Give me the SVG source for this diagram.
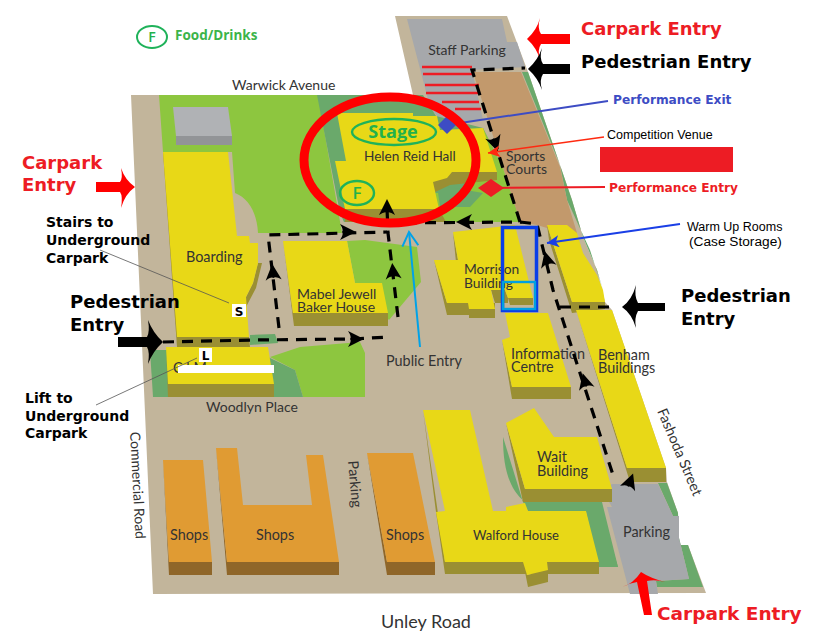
<svg xmlns="http://www.w3.org/2000/svg" width="818" height="642" viewBox="0 0 818 642">
<defs>
<style>
.g{fill:#c2b59b}.lg{fill:#8dc63f}.dg{fill:#6aa96b}.y{fill:#e8d817}.ys{fill:#9a8f33}.o{fill:#e09b33}.os{fill:#8f6629}.gr{fill:#a6a8ab}.br{fill:#c2996c}
.m{font-family:Lato,"Liberation Sans",sans-serif;font-size:14.400px;fill:#333}
.s{font-size:14px}
.b{font-family:"DejaVu Sans","Liberation Sans",sans-serif;font-weight:700}
.d{fill:none;stroke:#000;stroke-width:3.2;stroke-dasharray:11 8}
</style>
<path id="h" d="M9 0L-7 -8Q-3 -2 -5 0Q-3 2 -7 8Z" fill="#000"/>
<marker id="blueTip" markerUnits="userSpaceOnUse" markerWidth="14" markerHeight="12" refX="12" refY="6" orient="auto"><path d="M12 6L0 0L3 6L0 12Z" fill="#1a3fe6"/></marker>
<marker id="redTip" markerUnits="userSpaceOnUse" markerWidth="14" markerHeight="12" refX="12" refY="6" orient="auto"><path d="M12 6L0 0L3 6L0 12Z" fill="#ff2a10"/></marker>
<marker id="cyanTip" markerUnits="userSpaceOnUse" markerWidth="18" markerHeight="18" refX="15" refY="9" orient="auto"><path d="M1 1L15 9L1 17" fill="none" stroke="#00a2e8" stroke-width="2"/></marker>
</defs>
<rect width="818" height="642" fill="#fff"/>
<polygon id="ground" class="g" points="395,16 507,16 528,72 572,200 583,237 597,270 605,302 612,310 666,468 667,482 678,513 679,545 688,545 706,593 153,594 131,95 413,95"/>
<g id="site">
<polygon class="dg" points="522,72 528,72 572,200 583,237 597,270 603,290 590,250 567,200 560,165"/>
<polygon class="br" points="473,72 521,72 560,167 567,200 577,233 547,228 537,225 520,222"/>
<polygon class="gr" points="407,19 502,19 507,42 517,42 525,67 472,70 483,120 443,124 430,107"/>
<path class="lg" d="M159,95H318L342,233H258C257,212 248,198 235,193L232,152H163Z"/>
<polygon class="dg" points="317,95 423,95 436,116 483,128 502,167 520,222 344,222 340,213"/>
<polygon class="lg" points="440,133 483,128 503,168 520,222 390,222 433,193 470,193"/>
<polygon class="dg" points="437,185 483,193 470,207 440,207"/>
<polygon class="lg" points="347,241 365,240 417,247 421,282 389,320 355,283"/>
<polygon class="dg" points="150,350 168,350 168,397 153,397"/>
<polygon class="dg" points="250,335 275,334 278,343 250,345"/>
<polygon class="lg" points="270,357 300,347 360,342 365,353 365,397 303,397 295,370"/>
<polygon class="dg" points="268,357 295,370 303,397 274,397"/>
<path class="dg" d="M503,437L523,502H598L618,567H598L586,511H528L525,502C510,490 503,470 503,437Z"/>
<polygon class="dg" points="523,502 602,502 618,567 599,567 586,511 528,511"/>
<polygon class="dg" points="658,483 667,483 678,513 679,545 688,545 703,587 657,587 656,581 689,579 679,538 679,516 673,516"/>
<polygon class="gr" points="612,484 658,484 673,516 679,516 679,538 689,579 656,581 658,594 630,594 607,507 612,507 602,490"/>
</g>
<g id="stripes" fill="none" stroke="#ed1c24" stroke-width="2.6">
<path d="M422,67H472M423,74H473M425,85H479M426,93H480M442,102H479M455,109H481"/>
</g>
<g id="carpark-block"><polygon points="173,107 228,107 232,136 176,136" fill="#b0b2b5"/><polygon points="173,107 176,136 176,145 232,145 232,136 176,136" fill="#929497"/></g>
<g id="boarding">
<polygon class="ys" points="163,152 167,152 181,337 177,347"/>
<polygon class="ys" points="177,337 249,337 250,347 177,347"/>
<polygon class="ys" points="258,263 253,283 246,297 246,307 256,288 262,263"/>
<polygon class="y" points="163,152 228,152 237,236 249,236 250,243 258,243 258,263 253,283 246,297 249,337 177,337"/>
<text class="m" x="186" y="262">Boarding</text>
</g>
<g id="cafe">
<polygon class="ys" points="166,347 168,397 274,397 274,384 168,384"/>
<polygon class="y" points="166,347 268,347 274,384 168,384"/>
<text class="m" x="173" y="373">C       l M</text>
<rect x="178" y="365" width="96" height="8" fill="#fff"/>
</g>
<g id="mabel">
<polygon class="ys" points="283,241 293,313 388,313 388,326 294,326"/>
<polygon class="y" points="283,241 347,241 355,283 382,283 388,313 293,313"/>
<text class="m s" x="297" y="299">Mabel Jewell<tspan x="297" dy="13">Baker House</tspan></text>
</g>
<g id="hall">
<polygon class="ys" points="345,209 439,209 446,222 345,222"/>
<polygon class="ys" points="452,172 497,172 497,180 450,185 433,193 433,182"/>
<polygon class="y" points="337,113 413,113 413,116 437,116 440,130 483,128 497,172 452,172 447,178 433,182 439,209 345,209 335,161 346,161"/>
<text class="m" x="364" y="161" style="font-size:13.600px">Helen Reid Hall</text>
</g>
<g id="morrison">
<polygon class="ys" points="434,260 447,315 469,315 469,318 495,318 495,303 447,303"/>
<polygon class="ys" points="453,232 456,262 458,260"/>
<polygon class="ys" points="491,290 505,290 508,298 508,303 495,303"/>
<polygon class="ys" points="508,298 533,298 533,305 510,305"/>
<polygon class="y" points="453,232 515,225 533,298 508,298 505,290 491,290 495,309 469,309 468,303 447,303 434,260 458,260"/>
<text class="m" x="464" y="274" style="font-size:13.800px">Morrison<tspan x="464" dy="14">Building</tspan></text>
</g>
<g id="benham-north">
<polygon class="ys" points="547,225 549,240 572,313 605,309 605,302 572,302"/>
<polygon class="y" points="547,225 567,225 577,233 583,253 597,275 603,290 605,302 572,302"/>
</g>
<g id="benham">
<polygon class="ys" points="576,310 630,482 666,482 666,468 627,468"/>
<polygon class="y" points="576,310 612,310 666,468 627,468"/>
<text class="m" x="598" y="360">Benham<tspan x="598" dy="13">Buildings</tspan></text>
</g>
<g id="information">
<polygon class="ys" points="502,340 512,399 571,399 571,387 512,387"/>
<polygon class="y" points="505,313 548,313 571,387 512,387 502,340 510,337"/>
<text class="m" x="511" y="359">Information<tspan x="511" dy="13">Centre</tspan></text>
</g>
<g id="wait">
<polygon class="ys" points="506,423 523,502 612,502 612,489 525,489"/>
<polygon class="y" points="506,423 534,408 554,437 597,437 612,489 525,489"/>
<text class="m" x="537" y="462">Wait<tspan x="537" dy="14">Building</tspan></text>
</g>
<g id="walford">
<polygon class="ys" points="423,410 436,512 445,574 527,574 599,574 599,562 445,562"/>
<polygon class="ys" points="523,562 528,587 548,582 548,570 527,575"/>
<polygon class="y" points="423,410 470,410 493,511 506,511 506,507 525,503 528,511 586,511 599,562 547,562 548,570 527,575 523,562 445,562 436,512 445,511"/>
<text class="m" x="473" y="540" style="font-size:13px">Walford House</text>
</g>
<g id="shops">
<polygon class="os" points="163,460 169,575 212,575 212,562 169,562"/>
<polygon class="o" points="163,460 203,460 212,562 169,562"/>
<polygon class="os" points="216,448 227,575 339,575 339,562 227,562"/>
<polygon class="o" points="216,448 237,448 243,505 312,505 306,455 323,455 339,562 227,562"/>
<polygon class="os" points="367,453 387,575 435,575 435,562 387,562"/>
<polygon class="o" points="367,453 413,453 435,562 387,562"/>
<text class="m" x="170" y="540">Shops</text><text class="m" x="256" y="540">Shops</text><text class="m" x="386" y="540">Shops</text>
</g>
<g id="road-labels">
<text class="m s" x="467" y="55" text-anchor="middle">Staff Parking</text>
<text class="m s" x="232" y="90">Warwick Avenue</text>
<text class="m s" x="506" y="161">Sports<tspan x="506" dy="13">Courts</tspan></text>
<text class="m" x="386" y="366">Public Entry</text>
<text class="m s" x="206" y="412">Woodlyn Place</text>
<text class="m s" transform="translate(130,432) rotate(87)">Commercial Road</text>
<text class="m" transform="translate(348,461) rotate(85)">Parking</text>
<text class="m" transform="translate(657,411) rotate(67)">Fashoda Street</text>
<text class="m" x="623" y="537">Parking</text>
<text class="m" x="381" y="628" style="font-size:18px">Unley Road</text>
</g>
<g id="connectors">
<path class="d" d="M163,342L253,340L353,339L388,337"/>
<path class="d" d="M279,328L268,235L387,232"/>
<path class="d" d="M398,317L388,233L387,208"/>
<path class="d" d="M387,223L520,222L472,70L525,68"/>
<path class="d" d="M520,222L537,224L553,290L593,413L613,475"/>
<path class="d" d="M560,307H613"/>
<use href="#h" transform="translate(355,339)"/>
<use href="#h" transform="translate(347,232)"/>
<use href="#h" transform="translate(273,273) rotate(-95)"/>
<use href="#h" transform="translate(393,272) rotate(-95)"/>
<use href="#h" transform="translate(387,208) rotate(-90)"/>
<use href="#h" transform="translate(465,222) rotate(180)"/>
<use href="#h" transform="translate(495,143) rotate(72)"/>
<use href="#h" transform="translate(547,260) rotate(-105)"/>
<use href="#h" transform="translate(585,382) rotate(-105)"/>
<use href="#h" transform="translate(630,482) rotate(-70)"/>
<path fill="none" stroke="#3d4cc4" stroke-width="2" d="M447,125L608,101"/>
<path fill="none" stroke="#ff2a10" stroke-width="1.6" marker-end="url(#redTip)" d="M604,137L488,153"/>
<path fill="none" stroke="#ed1c24" stroke-width="2" d="M491,188L605,187"/>
<path fill="none" stroke="#1a3fe6" stroke-width="2" marker-end="url(#blueTip)" d="M680,224L547,243"/>
<path fill="none" stroke="#00a2e8" stroke-width="2" marker-end="url(#cyanTip)" d="M420,347L409,232"/>
<path fill="none" stroke="#555" stroke-width="0.8" d="M100,250L229,303M96,405L197,358"/>
<polygon fill="#3d4cc4" points="447,116 456,125 447,134 438,125"/>
<polygon fill="#ed1c24" points="491,179 504,188 491,197 478,188"/>
</g>
<g id="entry-arrows">
<path fill="#f00" d="M527,39Q537,30 540,18Q537,28 541,34H570V44H541Q537,50 540,60Q537,48 527,39Z"/>
<path fill="#000" d="M528,69Q538,60 542,48Q539,58 543,64H570V74H543Q539,80 542,90Q538,78 528,69Z"/>
<path fill="#f00" d="M135,187Q125,180 121,168Q123,178 120,182H96V192H120Q123,196 121,208Q125,194 135,187Z"/>
<path fill="#000" d="M163,342Q153,333 148,320Q150,332 147,337H118V347H147Q150,352 148,364Q153,351 163,342Z"/>
<path fill="#000" d="M622,307Q632,300 636,285Q634,296 638,303H665V311H638Q634,318 636,328Q632,314 622,307Z"/>
<path fill="#f00" d="M641,572Q633,584 622,587Q630,583 637,582L644,615H652L647,581Q655,579 665,582Q650,578 641,572Z"/>
</g>
<g id="stage-ring">
<ellipse cx="390" cy="160" rx="86" ry="63" fill="none" stroke="#f00" stroke-width="9"/>
<ellipse cx="394" cy="132" rx="42" ry="13" fill="none" stroke="#1fb25a" stroke-width="2.4"/>
<text x="393" y="138" text-anchor="middle" style="font-family:'Open Sans',sans-serif;font-weight:700;font-size:18px;fill:#22b14c">Stage</text>
<ellipse cx="357" cy="193" rx="17" ry="12" fill="none" stroke="#1fb25a" stroke-width="2.4"/>
<text x="357" y="199" text-anchor="middle" style="font-family:'Open Sans',sans-serif;font-weight:600;font-size:17px;fill:#22b14c">F</text>
</g>
<g id="legend">
<ellipse cx="152" cy="37" rx="15" ry="11" fill="none" stroke="#1fb25a" stroke-width="2"/>
<text x="152" y="42" text-anchor="middle" style="font-family:'Open Sans',sans-serif;font-weight:600;font-size:14px;fill:#22b14c">F</text>
<text x="175" y="40" style="font-family:'Open Sans',sans-serif;font-weight:700;font-size:13.500px;fill:#3cb44a">Food/Drinks</text>
<rect x="600" y="147" width="133" height="25" fill="#ed1c24"/>
<rect x="232" y="304" width="14" height="13" fill="#fff"/><text class="b" x="239" y="316" text-anchor="middle" font-size="12">S</text>
<rect x="199" y="348" width="13" height="14" fill="#fff"/><text class="b" x="205.500" y="360" text-anchor="middle" font-size="12">L</text>
<g class="b" font-size="18">
<text x="581" y="35" fill="#ed1c24">Carpark Entry</text>
<text x="581" y="68">Pedestrian Entry</text>
<text x="657" y="620" fill="#ed1c24" font-size="18.500">Carpark Entry</text>
<text x="681" y="302">Pedestrian<tspan x="681" dy="23">Entry</tspan></text>
<text x="70" y="308">Pedestrian<tspan x="70" dy="23">Entry</tspan></text>
<text x="22" y="169" fill="#ed1c24">Carpark<tspan x="22" dy="22">Entry</tspan></text>
</g>
<g class="b" font-size="14">
<text x="46" y="227">Stairs to<tspan x="46" dy="18">Underground</tspan><tspan x="46" dy="18">Carpark</tspan></text>
<text x="25" y="403">Lift to<tspan x="25" dy="18">Underground</tspan><tspan x="25" dy="17">Carpark</tspan></text>
</g>
<g class="b" font-size="12.200">
<text x="613" y="104" fill="#3d4cc4">Performance Exit</text>
<text x="609" y="192" fill="#ed1c24">Performance Entry</text>
</g>
<g style="font-family:'Liberation Sans',sans-serif;font-size:12.500px">
<text x="607" y="139">Competition Venue</text>
<text x="687" y="231">Warm Up Rooms</text>
<text x="689" y="246" style="font-size:13.700px">(Case Storage)</text>
</g>
</g>
<g id="frames" fill="none">
<rect x="502.500" y="227.500" width="34" height="83" stroke="#0a3ee8" stroke-width="3.500"/>
<rect x="503" y="282" width="32" height="27" stroke="#00a0e0" stroke-width="2.400"/>
</g>
</svg>
